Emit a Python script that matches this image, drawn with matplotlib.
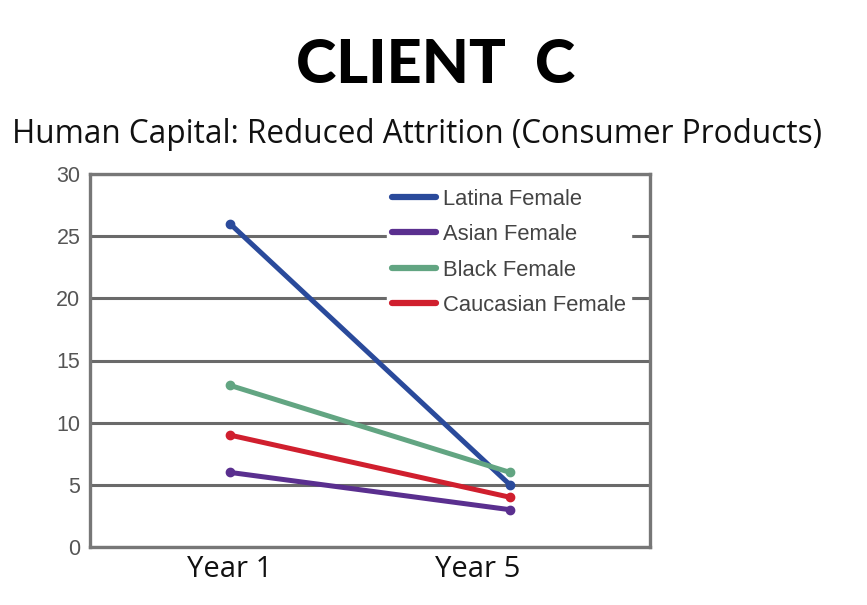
import matplotlib
matplotlib.use("Agg")
import matplotlib.pyplot as plt
from matplotlib.transforms import ScaledTranslation, blended_transform_factory

categories = ["Year 1", "Year 5"]
series_names = ["Latina Female", "Asian Female", "Black Female", "Caucasian Female"]
latina = [26, 5]
asian = [6, 3]
black = [13, 6]
caucasian = [9, 4]
colors = ["#2a4a9b", "#5a2f8f", "#62a582", "#d01f2e"]
yticks = [0, 5, 10, 15, 20, 25, 30]

fig = plt.figure(figsize=(8.67, 6.05), dpi=100)
fig.patch.set_facecolor("white")
ax = fig.add_axes([90/867, 1-547/605, 560/867, 373/605])

x = list(range(len(categories)))
for vals, name, c in zip([latina, asian, black, caucasian], series_names, colors):
    ax.plot(x, vals, color=c, lw=3.6, marker="o", ms=6, label=name,
            solid_capstyle="round", zorder=3)

ax.set_xlim(-0.5, 1.5)
ax.set_ylim(0, 30)
ax.set_yticks(yticks)
ax.set_xticks(x)
ax.set_xticklabels([])
# category labels (Year 5 label sits slightly left of its data point in the reference)
base = blended_transform_factory(ax.transData, ax.transAxes)
offsets = [0.0, -0.32]
for xi, lab, off in zip(x, categories, offsets):
    ax.text(xi, -0.022, lab, transform=base + ScaledTranslation(off, 0, fig.dpi_scale_trans),
            ha="center", va="top", fontsize=21, family="Open Sans", color="#111111")
for lab in ax.get_yticklabels():
    lab.set_fontsize(15.5)
    lab.set_family("Liberation Sans")
    lab.set_color("#555555")
ax.tick_params(axis="both", length=0)
ax.tick_params(axis="y", pad=7)
ax.grid(axis="y", color="#6a6a6a", lw=2.2, zorder=1)
ax.set_axisbelow(True)
for s in ax.spines.values():
    s.set_color("#777777")
    s.set_linewidth(2.4)

leg = ax.legend(loc="upper left", bbox_to_anchor=(0.51, 1.005), frameon=True,
                fancybox=False, framealpha=1, edgecolor="white",
                prop={"family": "Liberation Sans", "size": 15.8},
                handlelength=2.0, handletextpad=0.3, labelspacing=0.66,
                borderpad=0.25)
leg.set_zorder(5)
for t in leg.get_texts():
    t.set_color("#444444")
for h in leg.legend_handles:
    h.set_marker("")
    h.set_linewidth(4.5)

fig.text(0.502, 0.893, "CLIENT  C", ha="center", va="center", fontsize=44,
         fontweight="black", family="Lato", color="black")
fig.text(0.481, 0.778, "Human Capital: Reduced Attrition (Consumer Products)",
         ha="center", va="center", fontsize=22.7, family="Open Sans", color="#111111")

fig.savefig("out.png", dpi=100, facecolor="white")
